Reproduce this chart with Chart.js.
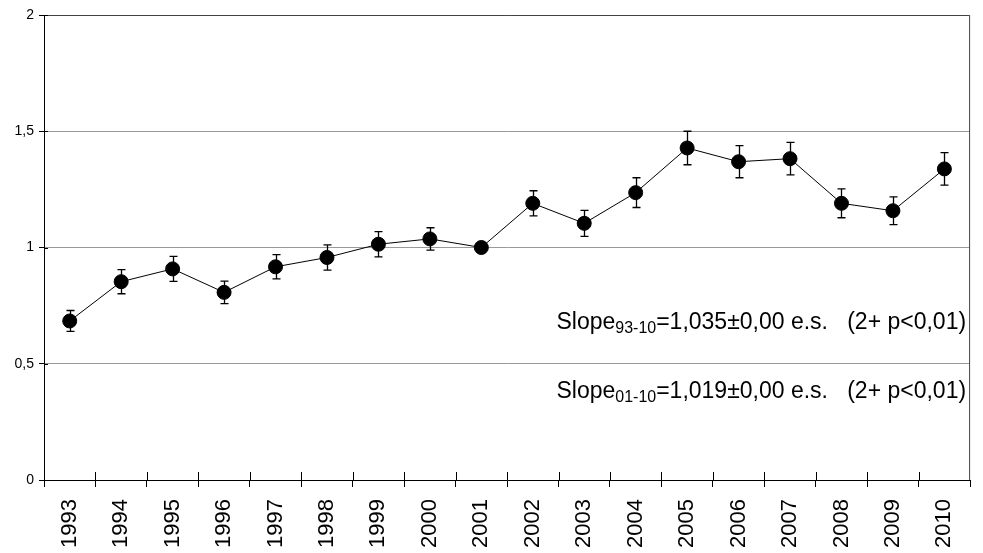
<!DOCTYPE html>
<html>
<head>
<meta charset="utf-8">
<script src="https://cdn.jsdelivr.net/npm/chart.js@4"></script>
<style>
  html, body { margin: 0; padding: 0; background: #fff; }
  #wrap { width: 983px; height: 553px; }
</style>
</head>
<body>
<div id="wrap"><canvas id="chart"></canvas></div>
<script>
// data
const years = ["1993","1994","1995","1996","1997","1998","1999","2000","2001",
  "2002","2003","2004","2005","2006","2007","2008","2009","2010"];
const values = [0.684, 0.853, 0.908, 0.807, 0.917, 0.957, 1.014, 1.037, 1.0,
  1.19, 1.104, 1.236, 1.428, 1.369, 1.382, 1.19, 1.158, 1.338];
const errors = [0.045, 0.052, 0.054, 0.048, 0.052, 0.054, 0.054, 0.048, 0,
  0.054, 0.056, 0.064, 0.072, 0.069, 0.07, 0.062, 0.06, 0.07];
const yTicks = [0, 0.5, 1, 1.5, 2];
const yTickLabels = ["0", "0,5", "1", "1,5", "2"];
const slopeNotes = [
  { main: "Slope", sub: "93-10", rest: "=1,035\u00b10,00 e.s.   (2+ p<0,01)", atValue: 0.648 },
  { main: "Slope", sub: "01-10", rest: "=1,019\u00b10,00 e.s.   (2+ p<0,01)", atValue: 0.354 }
];

const FONT = "'Liberation Sans', Arial, sans-serif";

// error bars, crossing ticks, frame and the slope text
const extras = {
  id: "extras",
  beforeDatasetsDraw(chart) {
    const { ctx, chartArea: a, scales: { x, y } } = chart;
    ctx.save();
    ctx.lineWidth = 1;
    // frame top and right
    ctx.strokeStyle = "#444";
    ctx.beginPath();
    ctx.moveTo(a.left, a.top + 0.5);
    ctx.lineTo(a.right - 0.5, a.top + 0.5);
    ctx.lineTo(a.right - 0.5, a.bottom);
    ctx.stroke();
    // inner half of the ticks
    ctx.strokeStyle = "#000";
    ctx.beginPath();
    for (let i = 1; i < years.length; i++) {
      const px = Math.round((x.getPixelForValue(i - 1) + x.getPixelForValue(i)) / 2) + 0.5;
      ctx.moveTo(px, a.bottom);
      ctx.lineTo(px, a.bottom - 8);
    }
    yTicks.forEach(v => {
      const py = Math.round(y.getPixelForValue(v)) + 0.5;
      ctx.moveTo(a.left, py);
      ctx.lineTo(a.left + 4, py);
    });
    ctx.stroke();
    ctx.restore();
  },
  afterDatasetsDraw(chart) {
    const { ctx, chartArea: a, scales: { x, y } } = chart;
    ctx.save();
    ctx.strokeStyle = "#000";
    ctx.lineWidth = 1.3;
    values.forEach((v, i) => {
      const e = errors[i];
      if (!e) return;
      const px = Math.round(x.getPixelForValue(i)) + 0.5;
      const top = y.getPixelForValue(v + e);
      const bot = y.getPixelForValue(v - e);
      ctx.beginPath();
      ctx.moveTo(px, top); ctx.lineTo(px, bot);
      ctx.moveTo(px - 4, top); ctx.lineTo(px + 4, top);
      ctx.moveTo(px - 4, bot); ctx.lineTo(px + 4, bot);
      ctx.stroke();
    });
    // slope notes, right aligned
    ctx.fillStyle = "#000";
    ctx.textBaseline = "alphabetic";
    slopeNotes.forEach(n => {
      const big = "23px " + FONT, small = "16px " + FONT;
      ctx.font = big;
      const wMain = ctx.measureText(n.main).width;
      const wRest = ctx.measureText(n.rest).width;
      ctx.font = small;
      const wSub = ctx.measureText(n.sub).width;
      let left = a.right - 4 - (wMain + wSub + wRest);
      const base = y.getPixelForValue(n.atValue);
      ctx.font = big;
      ctx.fillText(n.main, left, base);
      left += wMain;
      ctx.font = small;
      ctx.fillText(n.sub, left, base + 4);
      left += wSub;
      ctx.font = big;
      ctx.fillText(n.rest, left, base);
    });
    ctx.restore();
  }
};

new Chart(document.getElementById("chart"), {
  type: "line",
  data: {
    labels: years,
    datasets: [{
      data: values,
      borderColor: "#000",
      borderWidth: 1,
      pointBackgroundColor: "#000",
      pointBorderColor: "#000",
      pointRadius: 7,
      pointHoverRadius: 7,
      tension: 0
    }]
  },
  options: {
    responsive: true,
    maintainAspectRatio: false,
    animation: false,
    layout: { padding: { top: 15, right: 2, left: 0, bottom: 0 } },
    plugins: { legend: { display: false }, tooltip: { enabled: false } },
    scales: {
      x: {
        offset: true,
        grid: { offset: true, drawOnChartArea: false, color: "#000", tickLength: 7, tickColor: "#000" },
        border: { color: "#000", width: 1 },
        ticks: {
          color: "#000",
          font: { family: FONT, size: 22 },
          minRotation: 90, maxRotation: 90,
          padding: 12,
          autoSkip: false
        },
        afterFit(s) { s.height = 73; }
      },
      y: {
        min: 0, max: 2,
        afterBuildTicks(s) { s.ticks = yTicks.map(v => ({ value: v })); },
        grid: { color: "#999", tickColor: "#000", tickLength: 5 },
        border: { color: "#000", width: 1 },
        ticks: {
          color: "#000",
          font: { family: FONT, size: 14 },
          padding: 5,
          callback: (v) => yTickLabels[yTicks.indexOf(v)]
        },
        afterFit(s) { s.width = 44; }
      }
    }
  },
  plugins: [extras]
});
</script>
</body>
</html>
